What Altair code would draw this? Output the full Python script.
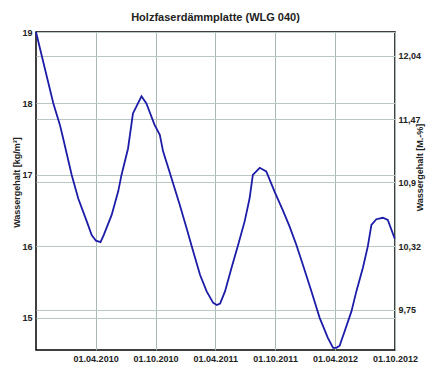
import altair as alt
import pandas as pd

dates = ["2009-10-01","2009-10-28","2009-11-23","2009-12-13","2009-12-23","2010-01-18","2010-02-07",
         "2010-03-05","2010-03-20","2010-04-02","2010-04-16","2010-04-26","2010-05-20","2010-06-09",
         "2010-06-19","2010-07-09","2010-07-24","2010-08-19","2010-09-03","2010-09-13","2010-09-28",
         "2010-10-14","2010-10-24","2010-11-19","2010-12-14","2011-01-04","2011-01-24","2011-02-14",
         "2011-03-06","2011-03-26","2011-04-06","2011-04-16","2011-05-01","2011-05-21","2011-06-10",
         "2011-06-30","2011-07-15","2011-07-25","2011-08-15","2011-09-04","2011-09-30","2011-10-25",
         "2011-11-14","2011-12-05","2011-12-25","2012-01-20","2012-02-14","2012-03-10","2012-03-26",
         "2012-04-05","2012-04-15","2012-04-30","2012-05-21","2012-06-05","2012-06-25","2012-07-10",
         "2012-07-21","2012-08-05","2012-08-25","2012-09-09","2012-09-30"]
values = [19.0,18.49,18.0,17.70,17.51,17.0,16.67,
          16.35,16.16,16.08,16.06,16.16,16.44,16.77,
          17.0,17.37,17.86,18.1,18.0,17.88,17.70,
          17.56,17.33,16.95,16.58,16.25,15.93,15.60,
          15.37,15.21,15.18,15.20,15.37,15.70,16.02,
          16.35,16.67,17.0,17.10,17.05,16.76,16.5,
          16.28,16.02,15.74,15.37,15.0,14.72,14.58,
          14.58,14.61,14.81,15.09,15.37,15.70,16.0,
          16.30,16.38,16.40,16.37,16.11]

x_ticks = ["2010-04-01","2010-10-01","2011-04-01","2011-10-01","2012-04-01","2012-10-01"]
x_domain = ["2009-10-01","2012-10-01"]
left_ticks = [15, 16, 17, 18, 19]
left_domain = [14.55, 19.0]
right_ticks = [9.75, 10.32, 10.9, 11.47, 12.04]
right_domain = [9.386, 12.255]

df = pd.DataFrame({"date": dates, "kg": values})

def ms(s):
    return int(pd.Timestamp(s, tz="UTC").timestamp() * 1000)

xt = [ms(s) for s in x_ticks]
xd = [ms(s) for s in x_domain]

FONT = "Liberation Sans"
x_enc = alt.X("date:T", scale=alt.Scale(type="utc", domain=xd),
              axis=alt.Axis(values=xt, format="%d.%m.%Y", title=None, grid=True,
                            gridColor="#a9b8b2", gridWidth=1, ticks=False, domain=False,
                            labelFont=FONT, labelFontSize=9, labelFontWeight="bold",
                            labelColor="#222", labelPadding=4, labelFlush=False))

line = alt.Chart(df).mark_line(color="#1c1ca8", strokeWidth=1.8).encode(
    x=x_enc,
    y=alt.Y("kg:Q", scale=alt.Scale(domain=left_domain, nice=False, zero=False),
            axis=alt.Axis(values=left_ticks, format="d", title="Wassergehalt [kg/m³]",
                          grid=True, gridColor="#b9c8c2", ticks=False, domain=False,
                          labelFont=FONT, labelFontSize=9, labelFontWeight="bold",
                          labelColor="#222", labelPadding=4,
                          titleFont=FONT, titleFontSize=9, titleFontWeight="bold",
                          titleColor="#222", titleX=-20, titleY=150,
                          titleBaseline="middle", titleAngle=270))
)

right = alt.Chart(df).transform_calculate(pct="datum.kg * 0.645").mark_line(opacity=0).encode(
    x=x_enc,
    y=alt.Y("pct:Q", scale=alt.Scale(domain=right_domain, nice=False, zero=False),
            axis=alt.Axis(orient="right", values=right_ticks, title="Wassergehalt [M.-%]",
                          labelExpr="replace(format(datum.value, ''), '.', ',')",
                          grid=True, gridColor="#b9c8c2", ticks=False, domain=False,
                          labelFont=FONT, labelFontSize=9, labelFontWeight="bold",
                          labelColor="#222", labelPadding=3,
                          titleFont=FONT, titleFontSize=9, titleFontWeight="bold",
                          titleColor="#222", titleX=24, titleY=135,
                          titleBaseline="middle", titleAngle=270))
)

chart = alt.layer(right, line).resolve_scale(y="independent").properties(
    width=359, height=318,
    title=alt.TitleParams("Holzfaserdämmplatte (WLG 040)", font=FONT, fontSize=11,
                          fontWeight="bold", color="#222", offset=5),
    autosize=alt.AutoSizeParams(type="none"),
    padding={"left": 28, "top": 24, "right": 39, "bottom": 23},
    background="white",
).configure_view(stroke="black", strokeWidth=1.5)

chart.save("out.html", embed_options={"renderer": "svg", "actions": False})
